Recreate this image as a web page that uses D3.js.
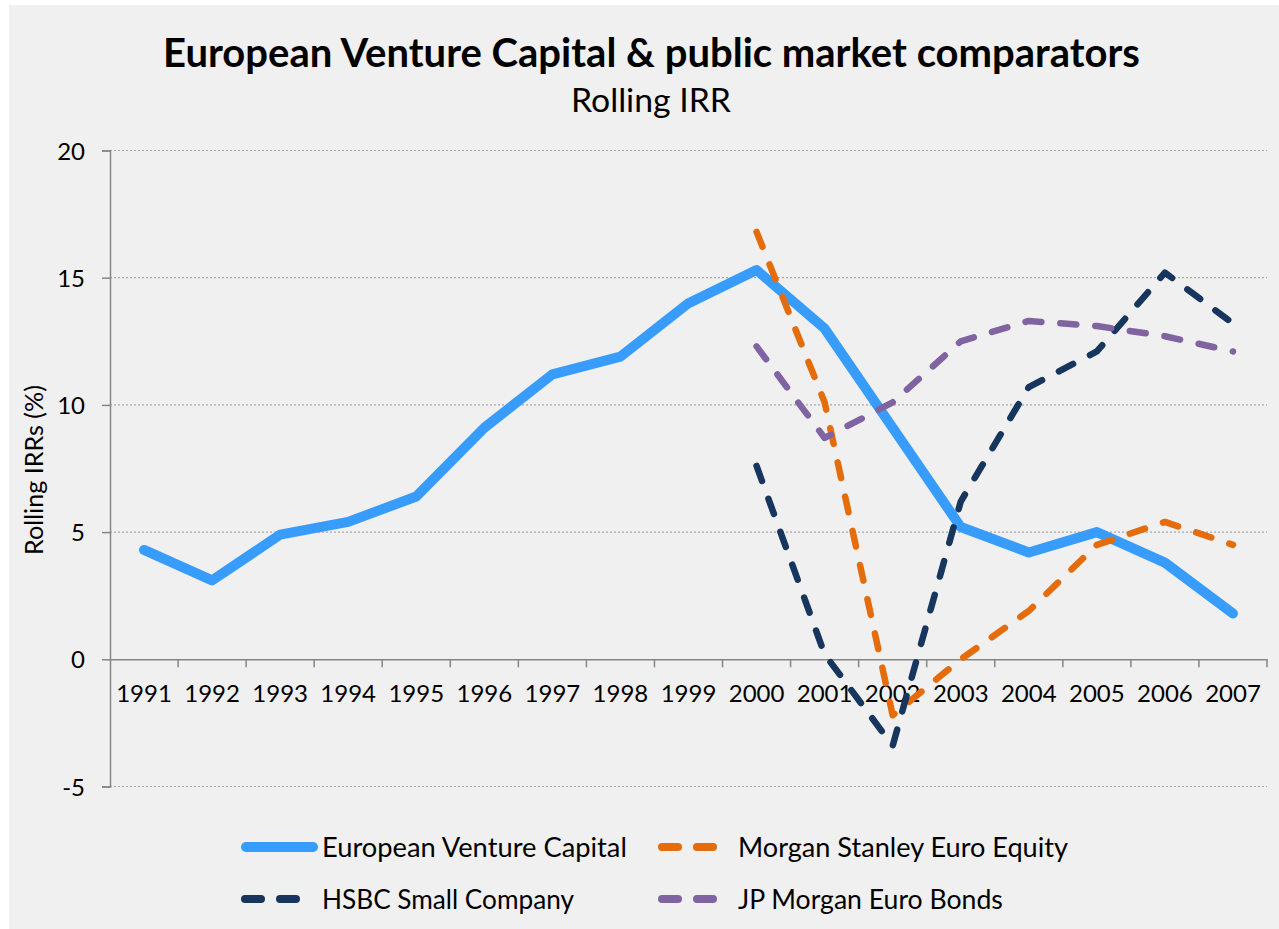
<!DOCTYPE html>
<html><head><meta charset="utf-8">
<script src="https://cdn.jsdelivr.net/npm/d3@7"></script>
<style>
html,body{margin:0;padding:0;background:#fff;}
svg{display:block;font-family:Lato,"Open Sans",sans-serif;}
</style></head>
<body><svg id="chart" width="1279" height="929"></svg>
<script>
const years = ["1991","1992","1993","1994","1995","1996","1997","1998","1999","2000","2001","2002","2003","2004","2005","2006","2007"];
const evc     = [4.3,3.1,4.9,5.4,6.4,9.1,11.2,11.9,14.0,15.3,13.0,9.1,5.2,4.2,5.0,3.8,1.8];
const msEuro  = [null,null,null,null,null,null,null,null,null,16.8,10.1,-2.2,0.0,1.9,4.5,5.4,4.5];
const hsbc    = [null,null,null,null,null,null,null,null,null,7.6,0.2,-3.4,6.2,10.7,12.1,15.2,13.2];
const jpm     = [null,null,null,null,null,null,null,null,null,12.3,8.7,10.1,12.5,13.3,13.1,12.7,12.1];
const yTicks  = [-5,0,5,10,15,20];
const seriesNames = ["European Venture Capital","Morgan Stanley Euro Equity","HSBC Small Company","JP Morgan Euro Bonds"];

const colors = {evc:"#389cfc", ms:"#e46c0a", hsbc:"#17365d", jpm:"#8064a2"};
const series = [
  {name:seriesNames[0], values:evc, color:colors.evc, width:10, dash:null},
  {name:seriesNames[1], values:msEuro, color:colors.ms, width:6.5, dash:"16,19"},
  {name:seriesNames[2], values:hsbc, color:colors.hsbc, width:6.5, dash:"16,19"},
  {name:seriesNames[3], values:jpm, color:colors.jpm, width:6.5, dash:"16,19"}
];

const svg = d3.select("#chart");
svg.append("rect").attr("x",9).attr("y",5).attr("width",1270).attr("height",924).attr("fill","#f0f0f0");

function fit(sel, target){
  const fs = parseFloat(sel.attr("font-size"));
  const w = sel.node().getComputedTextLength();
  sel.attr("font-size", fs*target/w);
  return sel;
}

// titles
fit(svg.append("text").attr("x",651.5).attr("y",67).attr("text-anchor","middle")
  .attr("font-size",36).attr("font-weight","bold").attr("fill","#000")
  .text("European Venture Capital & public market comparators"), 977);
fit(svg.append("text").attr("x",651).attr("y",112).attr("text-anchor","middle")
  .attr("font-size",26).attr("fill","#000").text("Rolling IRR"), 160);

const x = d3.scaleBand().domain(years).range([110,1267]).padding(0);
const y = d3.scaleLinear().domain([-5,20]).range([786.5,150.5]);

// gridlines
svg.append("g").selectAll("line").data(yTicks.filter(d=>d!==0)).join("line")
  .attr("x1",110).attr("x2",1267).attr("y1",d=>y(d)).attr("y2",d=>y(d))
  .attr("stroke","#a6a6a6").attr("stroke-width",1.2).attr("stroke-dasharray","2,2");

// y axis
const yAxis = svg.append("g").attr("transform","translate(110,0)")
  .call(d3.axisLeft(y).tickValues(yTicks).tickSize(8).tickPadding(17).tickFormat(d=>String(d)));
yAxis.select(".domain").attr("stroke","#868686").attr("stroke-width",1.5);
yAxis.selectAll(".tick line").attr("stroke","#868686").attr("stroke-width",1.5);
yAxis.selectAll("text").attr("font-size",24).attr("font-family","Lato").attr("fill","#000").attr("dy","0.36em");

// x axis at zero
const xAxis = svg.append("g").attr("transform",`translate(0,${y(0)})`)
  .call(d3.axisBottom(x).tickSize(0).tickPadding(26).tickSizeOuter(0));
xAxis.select(".domain").attr("stroke","#868686").attr("stroke-width",1.5);
xAxis.selectAll("text").attr("font-size",24).attr("font-family","Lato").attr("fill","#000");
xAxis.selectAll(".bt").data(years.slice(1).map(d=>x(d)).concat([x.range()[1]])).join("line")
  .attr("x1",d=>d).attr("x2",d=>d).attr("y1",0).attr("y2",8)
  .attr("stroke","#868686").attr("stroke-width",1.5);

// axis title
fit(svg.append("text").attr("transform","translate(43,470) rotate(-90)").attr("text-anchor","middle")
  .attr("font-size",22).attr("fill","#000").text("Rolling IRRs (%)"), 170);

// lines
const line = d3.line().defined(d=>d.v!==null).x(d=>x(d.year)+x.bandwidth()/2).y(d=>y(d.v));
svg.append("g").selectAll("path").data(series).join("path")
  .attr("d",s=>line(years.map((yr,i)=>({year:yr,v:s.values[i]}))))
  .attr("fill","none").attr("stroke",s=>s.color).attr("stroke-width",s=>s.width)
  .attr("stroke-linecap","round").attr("stroke-linejoin","round")
  .attr("stroke-dasharray",s=>s.dash);

// legend
const legendPos = [
  {x:241, y:847, tx:322, tw:305},
  {x:658, y:847, tx:738, tw:330},
  {x:241, y:899, tx:322, tw:252},
  {x:658, y:899, tx:738, tw:265}
];
series.forEach((s,i)=>{
  const p = legendPos[i];
  if(!s.dash){
    svg.append("line").attr("x1",p.x+5).attr("x2",p.x+72).attr("y1",p.y).attr("y2",p.y)
      .attr("stroke",s.color).attr("stroke-width",10).attr("stroke-linecap","round");
  } else {
    svg.append("line").attr("x1",p.x+4).attr("x2",p.x+55).attr("y1",p.y).attr("y2",p.y)
      .attr("stroke",s.color).attr("stroke-width",8).attr("stroke-linecap","round")
      .attr("stroke-dasharray","16,19");
  }
  fit(svg.append("text").attr("x",p.tx).attr("y",p.y+10).attr("font-size",24).attr("fill","#000").text(s.name), p.tw);
});
</script></body></html>
